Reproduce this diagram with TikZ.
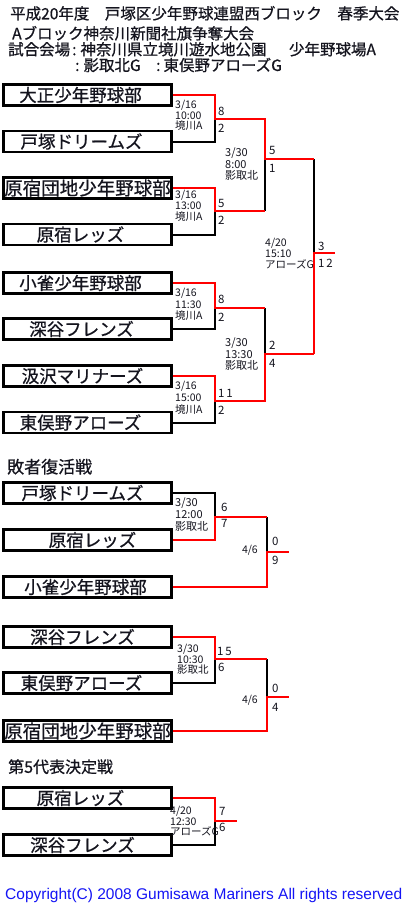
\documentclass[tikz,border=0pt]{standalone}
\usepackage{fontspec}
\setmainfont{Noto Sans CJK JP}
\newfontfamily\heavyf[FakeBold=0.7]{Noto Sans CJK JP}
\newfontfamily\latinf{Liberation Sans}
\definecolor{ink}{RGB}{20,20,30}
\definecolor{cpblue}{RGB}{20,20,245}
\tikzset{
  team/.style={draw=black, line width=2.2pt, fill=white, minimum width=168pt, minimum height=21pt, inner sep=0pt},
  tname/.style={font=\heavyf\fontsize{17.5}{20}\selectfont, inner sep=0pt, text=ink},
  hdr/.style={font=\heavyf\fontsize{15.5}{18}\selectfont, inner sep=0pt, anchor=west, text=ink},
  score/.style={font=\fontsize{11.5}{13}\selectfont, inner sep=0pt, anchor=west, text=ink},
  info/.style={font=\fontsize{10.5}{12}\selectfont, inner sep=0pt, anchor=west, text=ink},
  infob/.style={font=\fontsize{11}{12}\selectfont, inner sep=0pt, anchor=west, text=ink},
  win/.style={draw=red, line width=2pt},
  lose/.style={draw=black, line width=2pt},
}
\newcommand\mkinfo[8]{%
  \node[#8] (#1a) at (#2,#3) {#5};
  \node[#8] (#1b) at (#2,#3+#4) {#6};
  \node[#8] (#1c) at (#2,#3+2*#4) {#7};}
\begin{document}
\begin{tikzpicture}[x=1pt,y=-1pt]
\useasboundingbox (0,0) rectangle (408,906);
\fill[white] (0,0) rectangle (408,906);

% header
\node[hdr] (h1) at (10,13.3) {平成20年度　戸塚区少年野球連盟西ブロック　春季大会};
\node[hdr] (h2) at (12,33.3) {Aブロック神奈川新聞社旗争奪大会};
\node[hdr] (h3) at (8,49.3) {試合会場\hspace{2pt}:\hspace{4pt}神奈川県立境川遊水地公園　\hspace{7pt}少年野球場A};
\node[hdr] (h4) at (75,65) {:\hspace{4pt}影取北G　:\hspace{3pt}東俣野アローズG};

% main bracket boxes
\node[team] (a1) at (87.5,95) {};
\node[team] (a2) at (87.5,141.5) {};
\node[team] (a3) at (87.5,188) {};
\node[team] (a4) at (87.5,234.5) {};
\node[team] (a5) at (87.5,283) {};
\node[team] (a6) at (87.5,329) {};
\node[team] (a7) at (87.5,376) {};
\node[team] (a8) at (87.5,422.5) {};
\node[tname] (ta1) at (a1.center) [xshift=-7pt] {大正少年野球部};
\node[tname] (ta2) at (a2.center) [xshift=-6pt] {戸塚ドリームズ};
\node[tname, font=\heavyf\fontsize{18.5}{20}\selectfont] (ta3) at (a3.center) {原宿団地少年野球部};
\node[tname] (ta4) at (a4.center) [xshift=-7pt] {原宿レッズ};
\node[tname] (ta5) at (a5.center) [xshift=-7pt] {小雀少年野球部};
\node[tname] (ta6) at (a6.center) [xshift=-6pt] {深谷フレンズ};
\node[tname] (ta7) at (a7.center) [xshift=-5pt] {汲沢マリナーズ};
\node[tname] (ta8) at (a8.center) [xshift=-7pt] {東俣野アローズ};

\coordinate (m1) at (215,119);
\coordinate (m2) at (215,211);
\coordinate (m3) at (215,308);
\coordinate (m4) at (215,401);
\coordinate (s1) at (265,159);
\coordinate (s2) at (265,354);
\coordinate (f) at (314,253);
\coordinate (fend) at (335,253);

\draw[lose] (a2.east) -| (m1);
\draw[lose] (a4.east) -| (m2);
\draw[lose] (m2 -| s1) -- (s1);
\draw[lose] (a6.east) -| (m3);
\draw[lose] (m3 -| s2) -- (s2);
\draw[lose] (a8.east) -| (m4);
\draw[lose] (s1 -| f) -- (f);
\draw[win] (a1.east) -| (m1) -| (s1) -- (s1 -| f);
\draw[win] (a3.east) -| (m2) -- (m2 -| s1);
\draw[win] (a5.east) -| (m3) -- (m3 -| s2);
\draw[win] (a7.east) -| (m4) -| (s2) -- (s2 -| f);
\draw[win] (s2 -| f) -- (f) -- (fend);

% scores main
\node[score] (sc1) at (218,111) {8};
\node[score] (sc2) at (218,128) {2};
\node[score] (sc3) at (218,203) {5};
\node[score] (sc4) at (218,220) {2};
\node[score] (sc5) at (269,150) {5};
\node[score] (sc6) at (269,168) {1};
\node[score] (sc7) at (218,299) {8};
\node[score] (sc8) at (218,317) {2};
\node[score] (sc9) at (218,393) {1\,1};
\node[score] (sc10) at (218,410) {2};
\node[score] (sc11) at (269,345) {2};
\node[score] (sc12) at (269,363) {4};
\node[score] (sc13) at (318,246) {3};
\node[score] (sc14) at (318,263) {1\,2};

\mkinfo{ia}{175}{105}{10.5}{3/16}{10:00}{境川A}{info}
\mkinfo{ib}{175}{195.5}{10.7}{3/16}{13:00}{境川A}{info}
\mkinfo{ic}{175}{293.3}{11}{3/16}{11:30}{境川A}{info}
\mkinfo{id}{175}{386.5}{11.5}{3/16}{15:00}{境川A}{info}
\mkinfo{ie}{225}{152.7}{11.5}{3/30}{8:00}{影取北}{infob}
\mkinfo{iff}{225}{343.3}{11.2}{3/30}{13:30}{影取北}{infob}
\mkinfo{ig}{265}{243.3}{10.5}{4/20}{15:10}{アローズG}{info}

% losers bracket
\node[font=\heavyf\fontsize{17}{20}\selectfont, inner sep=0pt, anchor=west, text=ink] (t2) at (7,466.7) {敗者復活戦};
\node[team] (b1) at (87.5,493) {};
\node[team] (b2) at (87.5,540) {};
\node[team] (b3) at (87.5,587) {};
\node[tname] (tb1) at (b1.center) [xshift=-5pt] {戸塚ドリームズ};
\node[tname] (tb2) at (b2.center) [xshift=5pt] {原宿レッズ};
\node[tname] (tb3) at (b3.center) [xshift=-2pt] {小雀少年野球部};
\coordinate (n1) at (215,517);
\coordinate (n2) at (267,552);
\coordinate (nend) at (289,552);
\draw[lose] (b1.east) -| (n1);
\draw[lose] (n1 -| n2) -- (n2);
\draw[win] (b2.east) -| (n1) -- (n1 -| n2);
\draw[win] (b3.east) -| (n2) -- (nend);
\node[score] (sb1) at (221,507) {6};
\node[score] (sb2) at (221,523) {7};
\node[score] (sb3) at (272,541.7) {0};
\node[score] (sb4) at (272,560) {9};
\node[info, anchor=east] (db) at (258,550.7) {4/6};
\mkinfo{ih}{175}{503.3}{11.7}{3/30}{12:00}{影取北}{infob}

\node[team] (c1) at (87.5,637) {};
\node[team] (c2) at (87.5,683) {};
\node[team] (c3) at (87.5,731) {};
\node[tname] (tc1) at (c1.center) [xshift=-5pt] {深谷フレンズ};
\node[tname] (tc2) at (c2.center) [xshift=-6pt] {東俣野アローズ};
\node[tname, font=\heavyf\fontsize{18.5}{20}\selectfont] (tc3) at (c3.center) {原宿団地少年野球部};
\coordinate (p1) at (215,659);
\coordinate (p2) at (267,697);
\coordinate (pend) at (289,697);
\draw[lose] (c2.east) -| (p1);
\draw[lose] (p1 -| p2) -- (p2);
\draw[win] (c1.east) -| (p1) -- (p1 -| p2);
\draw[win] (c3.east) -| (p2) -- (pend);
\node[score] (sc21) at (217,651.7) {1\,5};
\node[score] (sc22) at (218,667.3) {6};
\node[score] (sc23) at (272,688.3) {0};
\node[score] (sc24) at (272,707.3) {4};
\node[info, anchor=east] (dc) at (258,700.7) {4/6};
\mkinfo{ii}{177}{649.3}{10}{3/30}{10:30}{影取北}{info}

% 5th place decider
\node[font=\heavyf\fontsize{16}{20}\selectfont, inner sep=0pt, anchor=west, text=ink] (t3) at (8,766.7) {第5代表決定戦};
\node[team] (d1) at (87.5,798) {};
\node[team] (d2) at (87.5,845) {};
\node[tname] (td1) at (d1.center) [xshift=-7pt] {原宿レッズ};
\node[tname] (td2) at (d2.center) [xshift=-5pt] {深谷フレンズ};
\coordinate (q1) at (215,821);
\coordinate (qend) at (237,821);
\draw[lose] (d2.east) -| (q1);
\draw[win] (d1.east) -| (q1) -- (qend);
\node[score] (sd1) at (219,811.7) {7};
\node[score] (sd2) at (219,827.3) {6};
\mkinfo{ij}{170}{811.7}{10}{4/20}{12:30}{アローズG}{info}

\node[font=\latinf\fontsize{15.5}{17}\selectfont, inner sep=0pt, anchor=west, text=cpblue] (cp) at (5,895) {Copyright(C) 2008 Gumisawa Mariners All rights reserved};
\end{tikzpicture}
\end{document}
